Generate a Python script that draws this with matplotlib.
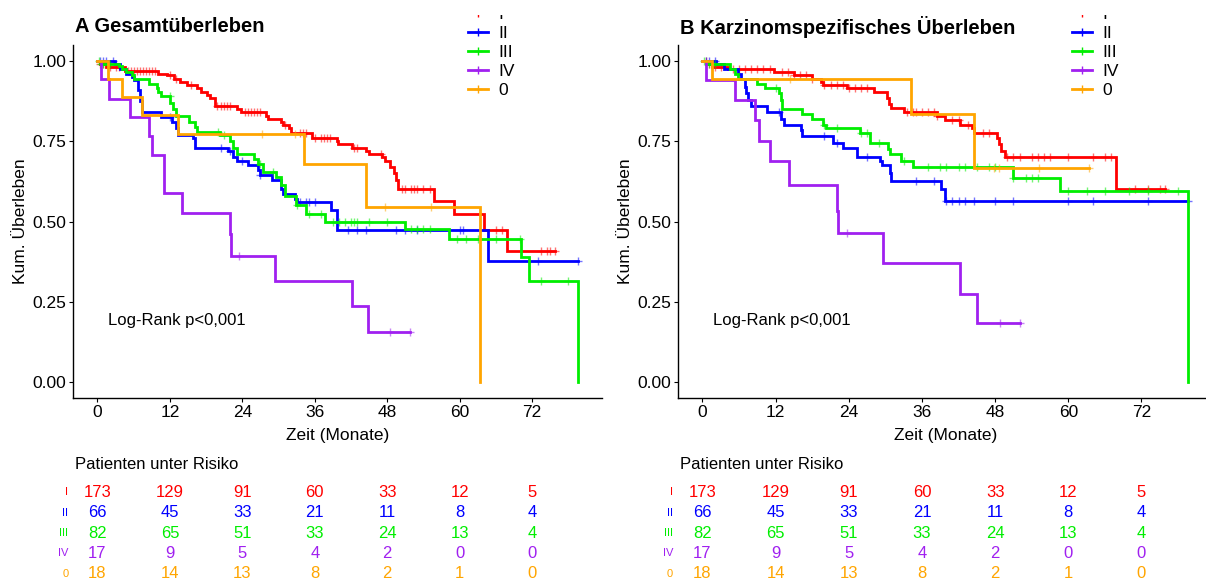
# Kaplan-Meier curves by stage, overall and cancer-specific survival, with risk tables
import numpy as np
import matplotlib
matplotlib.use('Agg')
import matplotlib.pyplot as plt
from matplotlib.lines import Line2D
from matplotlib.transforms import Bbox, TransformedBbox, offset_copy

plt.rcParams['font.family'] = ['Liberation Sans', 'DejaVu Sans']

groups = ['I', 'II', 'III', 'IV', '0']
colors = ['#FF0000', '#0000FF', '#00EE00', '#A020F0', '#FFA500']
risk_times = [0, 12, 24, 36, 48, 60, 72]

# ---- Panel A: Gesamtueberleben (step times in months, survival after each step)
a_times_I = [0, 0.5, 1.5, 4.5, 10.0, 11.5, 12.7, 13.6, 14.9, 16.5, 17.1, 18.1, 18.7, 19.5, 23.1,
             23.8, 27.9, 28.2, 30.4, 30.8, 31.7, 32.0, 35.5, 39.6, 39.9, 42.2, 44.4, 45.0, 47.2,
             47.6, 48.5, 49.1, 49.5, 49.8, 55.8, 59.0, 64.0, 67.9, 75.8]
a_surv_I = [1.0, 0.99, 0.98, 0.97, 0.96, 0.955, 0.945, 0.935, 0.925, 0.915, 0.905, 0.895, 0.885,
            0.86, 0.85, 0.84, 0.83, 0.82, 0.81, 0.80, 0.79, 0.775, 0.76, 0.75, 0.74, 0.73, 0.72,
            0.71, 0.70, 0.69, 0.67, 0.65, 0.63, 0.60, 0.565, 0.524, 0.474, 0.407, 0.407]
a_times_II = [0, 2.9, 3.8, 4.8, 5.7, 6.0, 6.7, 7.0, 7.4, 10.5, 12.4, 13.0, 13.3, 15.9, 16.2, 21.6,
              22.5, 23.1, 25.0, 26.6, 27.0, 28.9, 30.4, 30.8, 32.7, 33.0, 38.7, 39.6, 64.7, 79.6]
a_surv_II = [1.0, 0.99, 0.975, 0.96, 0.95, 0.94, 0.91, 0.875, 0.84, 0.825, 0.81, 0.79, 0.77, 0.76,
             0.73, 0.72, 0.70, 0.69, 0.675, 0.66, 0.645, 0.63, 0.60, 0.585, 0.57, 0.56, 0.535,
             0.472, 0.377, 0.377]
a_times_III = [0, 0.6, 3.5, 4.1, 4.8, 5.7, 6.0, 8.6, 9.8, 10.1, 10.5, 12.1, 12.5, 13.0, 15.2, 16.2,
               16.5, 20.3, 21.9, 22.5, 23.1, 26.0, 26.6, 27.5, 29.5, 30.4, 31.0, 32.9, 34.6, 37.7,
               51.0, 58.3, 70.1, 71.5, 79.6]
a_surv_III = [1.0, 0.99, 0.985, 0.975, 0.965, 0.955, 0.945, 0.93, 0.915, 0.905, 0.89, 0.87, 0.85,
              0.83, 0.81, 0.795, 0.78, 0.77, 0.75, 0.73, 0.71, 0.695, 0.68, 0.655, 0.64, 0.615,
              0.58, 0.55, 0.524, 0.50, 0.477, 0.447, 0.39, 0.314, 0.0]
a_times_IV = [0, 0.6, 1.9, 5.4, 8.6, 9.1, 11.0, 14.0, 21.9, 22.2, 29.4, 42.2, 44.8, 51.8]
a_surv_IV = [1.0, 0.943, 0.883, 0.825, 0.765, 0.706, 0.589, 0.526, 0.46, 0.393, 0.315, 0.236,
             0.157, 0.157]
a_times_0 = [0, 1.7, 4.0, 7.4, 13.3, 34.2, 44.4, 63.4]
a_surv_0 = [1.0, 0.944, 0.889, 0.833, 0.772, 0.679, 0.546, 0.0]

a_cens_I = [0.5, 1, 2, 3, 3.5, 5, 5.5, 6, 6.5, 7, 7.5, 8, 8.5, 9, 9.5, 12, 13, 15.5, 19.8, 20.5,
            21, 21.5, 22, 24.5, 25, 25.5, 26, 26.5, 27, 31, 33.5, 34, 34.5, 36, 37, 37.5, 38,
            38.5, 42.5, 43, 47, 50.5, 51, 52, 52.5, 53, 54, 55, 66, 67, 73.5, 74.5, 75, 75.8]
a_cens_II = [0.5, 1, 1.5, 2.5, 12, 20.5, 22, 24, 27, 33.5, 34.5, 35, 36, 41.5, 43, 44.5, 49.5, 51,
             53, 60, 60.5, 73, 79.6]
a_cens_III = [0.3, 0.6, 1, 2, 12, 20, 21, 27, 29, 33, 35, 37, 39, 40, 41, 42, 42.5, 43, 45, 48, 52,
              53, 54, 55, 59.5, 61, 63, 66, 70, 73.5, 78]
a_cens_IV = [23.5, 48.5, 51.8]
a_cens_0 = [27.3, 32.7, 47.7, 55.2]

# ---- Panel B: Karzinomspezifisches Ueberleben
b_times_I = [0, 0.6, 1.6, 4.2, 11.8, 15.0, 17.9, 19.5, 19.8, 23.7, 28.2, 30.3, 30.6, 31.0, 33.0,
             38.4, 39.7, 42.2, 44.2, 44.5, 48.3, 48.6, 49.0, 49.6, 67.8, 75.8]
b_surv_I = [1.0, 0.99, 0.98, 0.975, 0.965, 0.955, 0.945, 0.935, 0.925, 0.915, 0.905, 0.885, 0.865,
            0.855, 0.84, 0.83, 0.815, 0.80, 0.79, 0.775, 0.76, 0.74, 0.72, 0.70, 0.602, 0.602]
b_times_II = [0, 2.2, 3.5, 5.8, 6.4, 6.9, 7.2, 7.5, 8.0, 10.6, 12.8, 13.4, 16.2, 16.4, 21.4, 23.0,
              25.3, 29.1, 29.5, 30.7, 31.0, 39.2, 39.7, 79.7]
b_surv_II = [1.0, 0.99, 0.975, 0.96, 0.945, 0.92, 0.90, 0.88, 0.86, 0.84, 0.82, 0.80, 0.785, 0.765,
             0.745, 0.73, 0.70, 0.69, 0.675, 0.65, 0.625, 0.60, 0.565, 0.565]
b_times_III = [0, 0.6, 4.5, 5.4, 5.8, 9.0, 10.2, 12.5, 12.8, 13.1, 16.3, 18.0, 19.8, 20.2, 25.9,
               27.5, 30.4, 30.7, 32.6, 34.6, 50.9, 58.6, 79.7]
b_surv_III = [1.0, 0.99, 0.975, 0.96, 0.945, 0.93, 0.915, 0.90, 0.88, 0.85, 0.835, 0.82, 0.80,
              0.79, 0.775, 0.745, 0.725, 0.71, 0.69, 0.67, 0.635, 0.594, 0.0]
b_times_IV = [0, 0.6, 5.4, 8.6, 9.3, 11.0, 14.2, 22.0, 22.3, 29.6, 42.2, 45.0, 52.0]
b_surv_IV = [1.0, 0.94, 0.88, 0.815, 0.75, 0.69, 0.613, 0.534, 0.463, 0.37, 0.275, 0.183, 0.183]
b_times_0 = [0, 1.6, 34.2, 44.5, 63.4]
b_surv_0 = [1.0, 0.944, 0.835, 0.667, 0.667]

b_cens_I = [0.5, 1, 2, 3, 5, 6, 7, 8, 9, 10, 11, 13, 14, 15, 16, 17, 18, 20, 21, 22, 23, 24, 25,
            26, 27, 33.5, 34.5, 35, 36, 37, 38, 38.5, 41, 42, 43.5, 46, 47, 50, 51, 52, 54, 55, 56,
            57, 60, 64, 66, 67, 71, 73, 75, 75.8]
b_cens_II = [0.5, 1, 2, 12.5, 20, 22, 27, 35, 38, 40, 41, 42, 43, 44.5, 48, 51, 60, 64, 73, 79.7]
b_cens_III = [0.3, 1, 2, 12, 20, 22, 26, 27, 29, 33, 37, 39, 40, 42, 43, 45, 47, 48, 51, 53, 54,
              55, 60, 63, 66, 70, 73, 78]
b_cens_IV = [23.7, 48.8, 52]
b_cens_0 = [14.4, 47.8, 48.6, 55.2, 63.4]

# numbers at risk (same table in both panels)
risk_I = [173, 129, 91, 60, 33, 12, 5]
risk_II = [66, 45, 33, 21, 11, 8, 4]
risk_III = [82, 65, 51, 33, 24, 13, 4]
risk_IV = [17, 9, 5, 4, 2, 0, 0]
risk_0 = [18, 14, 13, 8, 2, 1, 0]

W, H = 1206, 585
fig = plt.figure(figsize=(W / 100, H / 100), dpi=100)


def px_box(x0, y0, x1, y1):
    # pixel box (top-left origin) -> figure fraction rect
    return [x0 / W, 1 - y1 / H, (x1 - x0) / W, (y1 - y0) / H]


def km_panel(ax, times_list, surv_list, cens_list, title, leg_x):
    for t, s, c, col, lab in zip(times_list, surv_list, cens_list, colors, groups):
        t = np.array(t)
        s = np.array(s)
        ax.step(t, s, where='post', color=col, lw=2.0, solid_joinstyle='miter')
        c = np.array(c)
        idx = np.searchsorted(t, c, side='right') - 1
        ax.plot(c, s[idx], ls='none', marker='+', ms=6, mew=1.0, color=col, alpha=0.55)
    ax.set_xlim(-3.98, 83.6)
    ax.set_ylim(-0.05, 1.05)
    ax.set_xticks(risk_times)
    ax.set_yticks([0, 0.25, 0.5, 0.75, 1.0])
    ax.set_yticklabels(['0.00', '0.25', '0.50', '0.75', '1.00'])
    for side in ['top', 'right']:
        ax.spines[side].set_visible(False)
    for side in ['left', 'bottom']:
        ax.spines[side].set_linewidth(1.0)
    ax.tick_params(labelsize=12.5, length=3, width=0.8, colors='black', pad=2)
    ax.set_xlabel('Zeit (Monate)', fontsize=12.5, labelpad=6)
    ax.set_ylabel('Kum. Überleben', fontsize=12.5, labelpad=3)
    ax.text(1.75, 0.19, 'Log-Rank p<0,001', fontsize=12, va='center', ha='left')
    ax.text(0.003, 1.051, title, transform=ax.transAxes, fontsize=14.5, fontweight='bold',
            va='center', ha='left')
    handles = [Line2D([], [], color=col, lw=2.0, marker='+', ms=6, mew=1.0) for col in colors]
    leg = fig.legend(handles, groups, loc='upper left', bbox_to_anchor=(leg_x / W, 1 - 7 / H),
                     frameon=False, fontsize=12.5, handlelength=1.15, handletextpad=0.6,
                     labelspacing=0.22, borderaxespad=0, borderpad=0)
    # the top legend row is cut off at the upper edge, as in the original
    clip = TransformedBbox(Bbox([[0, 0], [1, 1 - 15 / H]]), fig.transFigure)
    for art in [leg.get_texts()[0], leg.legend_handles[0]]:
        art.set_clip_box(clip)
        art.set_clip_on(True)
    return ax


def risk_panel(ax):
    rows = [risk_I, risk_II, risk_III, risk_IV, risk_0]
    ax.set_xlim(-3.98, 83.6)
    ax.set_ylim(5.5, 0.5)
    ax.axis('off')
    lab_tr = offset_copy(ax.get_yaxis_transform(), fig=fig, x=-5, y=0, units='dots')
    for r, (vals, col, lab) in enumerate(zip(rows, colors, groups), start=1):
        for t, v in zip(risk_times, vals):
            ax.text(t, r, str(v), color=col, fontsize=12, ha='center', va='center')
        ax.text(0, r, lab, color=col, fontsize=8, ha='right', va='center', transform=lab_tr)
    ax.text(0.003, 1.167, 'Patienten unter Risiko', transform=ax.transAxes, fontsize=12,
            ha='left', va='center')


axA = fig.add_axes(px_box(73.4, 45, 602.2, 398))
km_panel(axA, [a_times_I, a_times_II, a_times_III, a_times_IV, a_times_0],
         [a_surv_I, a_surv_II, a_surv_III, a_surv_IV, a_surv_0],
         [a_cens_I, a_cens_II, a_cens_III, a_cens_IV, a_cens_0],
         'A Gesamtüberleben', 468)
rA = fig.add_axes(px_box(73.4, 482, 602.2, 584))
risk_panel(rA)

axB = fig.add_axes(px_box(678.2, 45, 1212.2, 398))
km_panel(axB, [b_times_I, b_times_II, b_times_III, b_times_IV, b_times_0],
         [b_surv_I, b_surv_II, b_surv_III, b_surv_IV, b_surv_0],
         [b_cens_I, b_cens_II, b_cens_III, b_cens_IV, b_cens_0],
         'B Karzinomspezifisches Überleben', 1072)
rB = fig.add_axes(px_box(678.2, 482, 1212.2, 584))
risk_panel(rB)

fig.savefig('out.png', dpi=100)
